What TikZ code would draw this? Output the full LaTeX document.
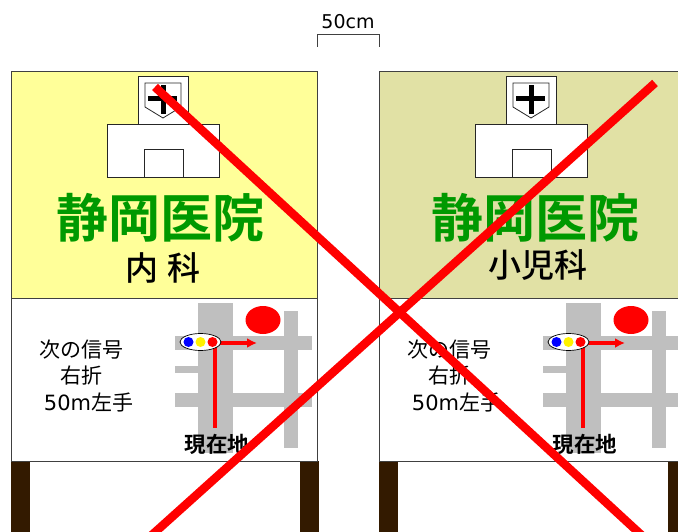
\documentclass[tikz,border=0pt]{standalone}
\usepackage{fontspec}
\setmainfont{Noto Sans CJK JP}
\newfontfamily\jpb{Noto Sans CJK JP Bold}
\newfontfamily\jpm{Noto Sans CJK JP Medium}
\newfontfamily\lat{DejaVu Sans}
\definecolor{signyellow}{HTML}{FFFF99}
\definecolor{signolive}{HTML}{E1E1A5}
\definecolor{signgreen}{HTML}{009900}
\definecolor{postbrown}{HTML}{331A00}
\definecolor{roadgray}{HTML}{BFBFBF}
\definecolor{edgegray}{HTML}{404040}
\tikzset{
  panel/.style={draw=edgegray,line width=0.9pt},
  whitebox/.style={draw=black!85,fill=white,line width=0.9pt},
  road/.style={fill=roadgray},
  route/.style={draw=red,line width=3.3pt},
  cross/.style={draw=red,line width=8.5pt},
  title/.style={inner sep=0pt,text=signgreen,font=\jpb\fontsize{52}{52}\selectfont},
  dept/.style={inner sep=0pt,font=\jpm\fontsize{33}{33}\selectfont},
  note/.style={inner sep=0pt,font=\fontsize{21}{21}\selectfont},
  here/.style={inner sep=0pt,font=\jpb\fontsize{21.5}{21.5}\selectfont},
  dim/.style={inner sep=0pt,font=\lat\fontsize{19}{19}\selectfont},
}
\newcommand{\signboard}[2]{%
  \fill[postbrown] (11,461) rectangle (30,532);
  \fill[postbrown] (300,461) rectangle (319,532);
  \draw[panel,fill=#1] (11,71) rectangle (317.5,298);
  \draw[panel,fill=white] (11,298) rectangle (317.5,461);
  % hospital
  \draw[whitebox] (138,76) rectangle (188,124);
  \draw[whitebox] (107,124) rectangle (219.5,177.5);
  \draw[whitebox] (144,149) rectangle (183,177.5);
  \draw[draw=black!85,fill=white,line width=0.8pt] (145,83) -- (181,83) -- (181,107) -- (163,118) -- (145,107) -- cycle;
  \fill[black] (148,96) rectangle (177,101.5);
  \fill[black] (160.5,85) rectangle (166,114);
  % map
  \fill[road] (198,303) rectangle (233,453);
  \fill[road] (284,311) rectangle (298,448);
  \fill[road] (175,336) rectangle (312,350);
  \fill[road] (175,366) rectangle (198,373);
  \fill[road] (175,393) rectangle (312,407);
  \fill[red] (263,320) ellipse [x radius=17.5,y radius=14];
  \coordinate (#2start) at (215,428);
  \coordinate (#2turn) at (215,343);
  \coordinate (#2end) at (257,343);
  \draw[route] (#2start) -- (#2turn);
  \draw[route,-{Latex[length=10pt,width=10pt]}] (#2turn) -- (#2end);
  \draw[draw=black,fill=white,line width=0.7pt] (200.5,342) ellipse [x radius=20.5,y radius=8.5];
  \fill[blue] (188.5,342) circle (5);
  \fill[yellow] (200.5,342) circle (5);
  \fill[red] (212.5,342) circle (5);
  \node[note] (#2a) at (81,349.5) {次の信号};
  \node[note] (#2b) at (81,376) {右折};
  \node[note] (#2c) at (88.5,402) {{\lat\fontsize{21}{21}\selectfont 50m}左手};
  \node[here] (#2d) at (217,444.5) {現在地};
}
\usetikzlibrary{arrows.meta}
\begin{document}
\begin{tikzpicture}[x=1pt,y=-1pt]
\useasboundingbox (0,0) rectangle (678,532);
\clip (0,0) rectangle (678,532);
\fill[white] (0,0) rectangle (678,532);
\node[dim] (width) at (348,22) {50cm};
\coordinate (bl) at (317,47);
\coordinate (bla) at (317,34);
\coordinate (bra) at (379,34);
\coordinate (br) at (379,47);
\draw[draw=edgegray,line width=0.9pt] (bl) -- (bla) -- (bra) -- (br);
\signboard{signyellow}{l}
\node[title] (ltitle) at (160.5,218) {静岡医院};
\node[dept] (ldept) at (163,268) {内\hspace{0.25em}科};
\begin{scope}[xshift=368pt]
\signboard{signolive}{r}
\end{scope}
\node[title] (rtitle) at (535,218) {静岡医院};
\node[dept] (rdept) at (538,265) {小児科};
\coordinate (xa) at (155,87);
\coordinate (xb) at (655,83);
\coordinate (xc) at (662,554);
\coordinate (xd) at (133,552);
\draw[cross] (xa) -- (xc);
\draw[cross] (xb) -- (xd);
\end{tikzpicture}
\end{document}
